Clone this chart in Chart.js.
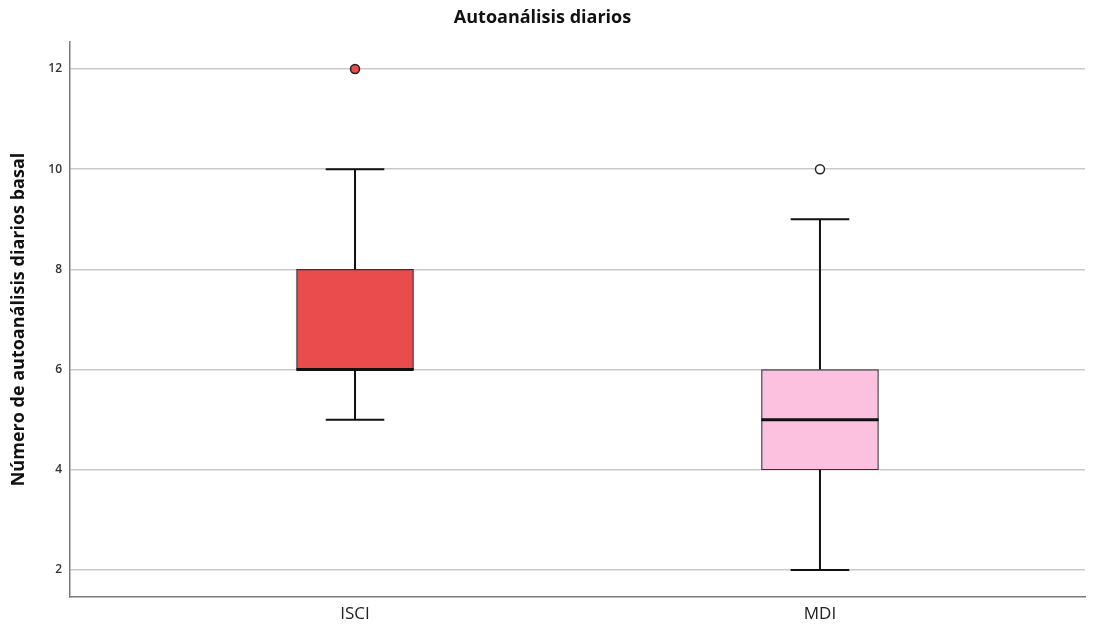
<!DOCTYPE html>
<html>
<head>
<meta charset="utf-8">
<script src="https://cdn.jsdelivr.net/npm/chart.js@4.4.1/dist/chart.umd.min.js"></script>
<style>
  html, body { margin: 0; padding: 0; background: #fff; }
  #wrap { width: 1100px; height: 633px; }
</style>
</head>
<body>
<div id="wrap"><canvas id="chart"></canvas></div>
<script>
// datos del diagrama de cajas
const categories = ['ISCI', 'MDI'];
const positions = [1, 2];
const whiskerLow = [5, 2];
const q1 = [6, 4];
const median = [6, 5];
const q3 = [8, 6];
const whiskerHigh = [10, 9];
const outliers = [12, 10];
const yTicks = [2, 4, 6, 8, 10, 12];

const boxColors = ['#ea4b4d', '#fbc1df'];
const outlierColors = ['#ea4b4d', '#ffffff'];
const FONT = '"Open Sans", "Liberation Sans", Arial, sans-serif';

// bigotes y mediana, dibujados con las escalas del gráfico
const whiskerPlugin = {
  id: 'whiskers',
  afterDatasetsDraw(chart) {
    const ctx = chart.ctx;
    const xs = chart.scales.x, ys = chart.scales.y;
    ctx.save();
    ctx.strokeStyle = '#111';
    positions.forEach((p, i) => {
      const cx = xs.getPixelForValue(p);
      const half = (xs.getPixelForValue(p + 0.252) - cx) / 2;
      const cap = half * 0.5;
      ctx.lineWidth = 2;
      ctx.beginPath();
      ctx.moveTo(cx, ys.getPixelForValue(whiskerLow[i]));
      ctx.lineTo(cx, ys.getPixelForValue(q1[i]));
      ctx.moveTo(cx, ys.getPixelForValue(q3[i]));
      ctx.lineTo(cx, ys.getPixelForValue(whiskerHigh[i]));
      ctx.moveTo(cx - cap, ys.getPixelForValue(whiskerLow[i]));
      ctx.lineTo(cx + cap, ys.getPixelForValue(whiskerLow[i]));
      ctx.moveTo(cx - cap, ys.getPixelForValue(whiskerHigh[i]));
      ctx.lineTo(cx + cap, ys.getPixelForValue(whiskerHigh[i]));
      ctx.stroke();
      ctx.lineWidth = 3;
      ctx.beginPath();
      ctx.moveTo(cx - half, ys.getPixelForValue(median[i]));
      ctx.lineTo(cx + half, ys.getPixelForValue(median[i]));
      ctx.stroke();
    });
    ctx.restore();
  }
};

const ctx = document.getElementById('chart').getContext('2d');
new Chart(ctx, {
  type: 'bar',
  data: {
    datasets: [
      {
        type: 'bar',
        data: positions.map((p, i) => ({ x: p, y: [q1[i], q3[i]] })),
        backgroundColor: boxColors,
        borderColor: '#333',
        borderWidth: 1.2,
        borderSkipped: false,
        barThickness: 117,
        order: 2
      },
      {
        type: 'line',
        showLine: false,
        data: positions.map((p, i) => ({ x: p, y: outliers[i] })),
        pointRadius: 4.5,
        pointBackgroundColor: outlierColors,
        pointBorderColor: '#222',
        pointBorderWidth: 1.5,
        order: 1
      }
    ]
  },
  options: {
    responsive: true,
    maintainAspectRatio: false,
    animation: false,
    layout: { padding: { left: 0, right: 15, top: 0, bottom: 0 } },
    plugins: {
      legend: { display: false },
      tooltip: { enabled: false },
      title: {
        display: true,
        text: 'Autoanálisis diarios',
        color: '#111',
        font: { family: FONT, size: 18, weight: 'bold' },
        padding: { top: 7, bottom: 13.4 }
      }
    },
    scales: {
      x: {
        type: 'linear',
        offset: false,
        min: 0.387,
        max: 2.57,
        afterBuildTicks: s => { s.ticks = positions.map(v => ({ value: v })); },
        afterFit: s => { s.height = 36; },
        grid: { display: false, drawTicks: false, offset: false },
        border: { display: true, color: '#7a7a7a', width: 1.5 },
        ticks: {
          padding: 7,
          color: '#222',
          font: { family: FONT, size: 17 },
          callback: v => categories[positions.indexOf(v)] || ''
        }
      },
      y: {
        min: 1.46,
        max: 12.54,
        afterBuildTicks: s => { s.ticks = yTicks.map(v => ({ value: v })); },
        afterFit: s => { s.width = 70; },
        grid: { color: '#c9c9c9', lineWidth: 1.5, drawTicks: false },
        border: { display: true, color: '#7a7a7a', width: 1.5 },
        ticks: {
          padding: 8,
          color: '#333',
          font: { family: FONT, size: 12, weight: '600' }
        },
        title: {
          display: true,
          text: 'Número de autoanálisis diarios basal',
          color: '#111',
          padding: { top: 8, bottom: 0 },
          font: { family: FONT, size: 18, weight: 'bold' }
        }
      }
    }
  },
  plugins: [whiskerPlugin]
});
</script>
</body>
</html>
